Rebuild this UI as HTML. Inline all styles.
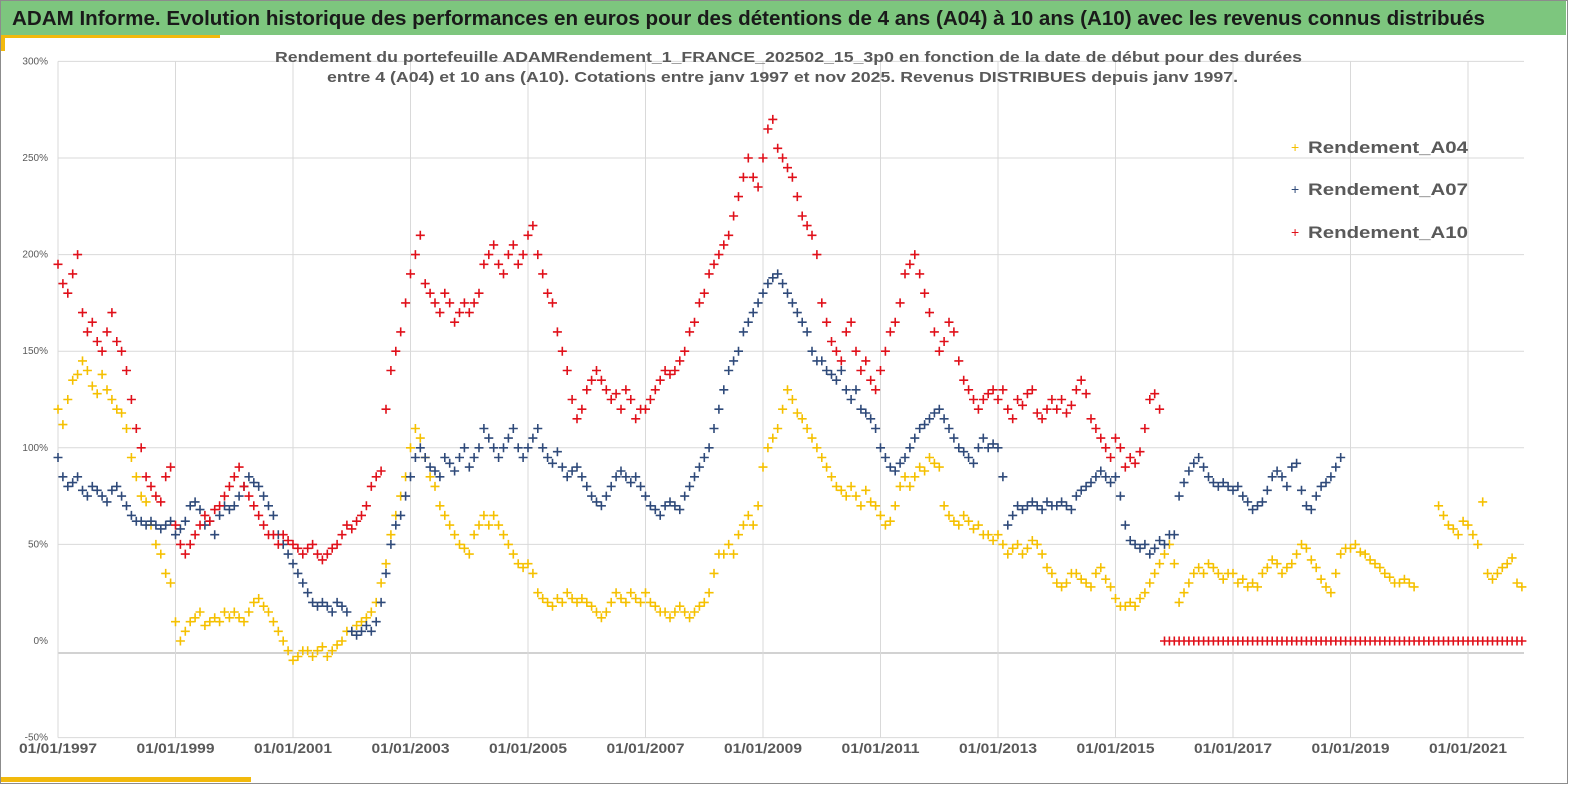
<!DOCTYPE html>
<html><head><meta charset="utf-8">
<style>
html,body{margin:0;padding:0;background:#fff;}
body{width:1569px;height:785px;overflow:hidden;font-family:"Liberation Sans",sans-serif;}
svg text{font-family:"Liberation Sans",sans-serif;}
</style></head>
<body>
<svg id="chart" width="1569" height="785" viewBox="0 0 1569 785">
  <rect x="0.5" y="0.5" width="1567" height="783" fill="#fff" stroke="#8c8c8c"/>
  <rect x="1" y="1" width="1565" height="34" fill="#7dc67e"/>
  <text x="12" y="25" font-size="20" font-weight="bold" fill="#1a1a1a" textLength="1473" lengthAdjust="spacingAndGlyphs">ADAM Informe. Evolution historique des performances en euros pour des détentions de 4 ans (A04) à 10 ans (A10) avec les revenus connus distribués</text>
  <rect x="1" y="35" width="219" height="3" fill="#f2b90c"/>
  <rect x="1" y="35" width="4" height="16" fill="#f2b90c"/>
  <rect x="1" y="777" width="250" height="5" fill="#f2b90c"/>
  <g id="grid"></g>
  <g id="yaxis"></g>
  <g id="xaxis"></g>
  <text x="275" y="62" font-size="15" font-weight="bold" fill="#595959" textLength="1027" lengthAdjust="spacingAndGlyphs">Rendement du portefeuille ADAMRendement_1_FRANCE_202502_15_3p0  en fonction de la date de début pour des durées</text>
  <text x="327" y="82" font-size="15" font-weight="bold" fill="#595959" textLength="911" lengthAdjust="spacingAndGlyphs">entre 4 (A04) et 10 ans (A10). Cotations entre janv 1997 et nov 2025. Revenus DISTRIBUES depuis janv 1997.</text>
  <g id="series"></g>
  <g>
    <g><text x="1291" y="152" font-size="14" fill="#f5c000">+</text><text x="1308" y="153" font-size="17" font-weight="bold" fill="#595959" textLength="160" lengthAdjust="spacingAndGlyphs">Rendement_A04</text></g>
    <g><text x="1291" y="194" font-size="14" fill="#2f4a7a">+</text><text x="1308" y="195" font-size="17" font-weight="bold" fill="#595959" textLength="160" lengthAdjust="spacingAndGlyphs">Rendement_A07</text></g>
    <g><text x="1291" y="237" font-size="14" fill="#e0101a">+</text><text x="1308" y="238" font-size="17" font-weight="bold" fill="#595959" textLength="160" lengthAdjust="spacingAndGlyphs">Rendement_A10</text></g>
  </g>
</svg>
<script>
// monthly series starting January 1997
const startYear = 1997;
const yTicks = [300, 250, 200, 150, 100, 50, 0, -50];
const xTickYears = [1997, 1999, 2001, 2003, 2005, 2007, 2009, 2011, 2013, 2015, 2017, 2019, 2021];
const a04 = [
120,112,125,135,138,145,140,132,128,138,130,125,
120,118,110,95,85,75,72,60,50,45,35,30,
10,0,5,10,12,15,8,10,12,10,15,12,
15,12,10,15,20,22,18,15,10,5,0,-5,
-10,-8,-5,-5,-8,-5,-3,-8,-5,-2,0,5,
5,8,10,12,15,20,30,40,55,65,75,85,
100,110,105,95,85,80,70,65,60,55,50,48,
45,55,60,65,60,65,60,55,50,45,40,38,
40,35,25,22,20,18,22,20,25,22,20,22,
20,18,15,12,15,20,25,22,20,25,22,20,
25,20,18,15,15,12,15,18,15,12,15,18,
20,25,35,45,45,50,45,55,60,65,60,70,
90,100,105,110,120,130,125,118,115,110,105,100,
95,90,85,80,78,75,80,75,70,78,72,70,
65,60,62,70,80,85,80,85,90,88,95,92,
90,70,65,62,60,65,62,58,60,55,55,52,
55,50,45,48,50,45,48,52,50,45,38,35,
30,28,30,35,35,32,30,28,35,38,32,28,
22,18,18,20,18,22,25,30,35,40,45,50,
40,20,25,30,35,38,35,40,38,35,32,35,
35,30,32,28,30,28,35,38,42,40,35,38,
40,45,50,48,42,38,32,28,25,35,45,48,
48,50,46,45,42,40,38,35,33,30,30,32,
30,28,null,null,null,null,70,65,60,58,55,62,
60,55,50,72,35,32,35,38,40,43,30,28];
const a07 = [
95,85,80,82,85,78,75,80,78,75,72,78,
80,75,70,65,62,62,60,62,60,58,60,62,
55,58,62,70,72,68,60,62,55,65,70,68,
70,75,80,85,82,80,75,70,65,55,50,45,
40,35,30,25,20,18,20,18,15,20,18,15,
5,3,5,8,5,10,20,35,50,60,65,75,
85,95,100,95,90,88,85,95,92,88,95,100,
90,95,100,110,105,100,95,100,105,110,100,95,
100,105,110,100,95,92,98,90,85,88,90,85,
80,75,72,70,75,80,85,88,85,82,85,80,
75,70,68,65,70,72,70,68,75,80,85,90,
95,100,110,120,130,140,145,150,160,165,170,175,
180,185,188,190,185,180,175,170,165,160,150,145,
145,140,138,135,140,130,125,130,120,118,115,110,
100,95,90,88,92,95,100,105,110,112,115,118,
120,115,110,105,100,98,95,92,100,105,100,102,
100,85,60,65,70,68,70,72,70,68,72,70,
70,72,70,68,75,78,80,82,85,88,85,82,
85,75,60,52,50,48,50,45,48,52,50,55,
55,75,82,88,92,95,90,85,82,80,82,80,
78,80,75,72,68,70,72,78,85,88,85,80,
90,92,78,70,68,75,80,82,85,90,95];
const a10 = [
195,185,180,190,200,170,160,165,155,150,160,170,
155,150,140,125,110,100,85,80,75,72,85,90,
60,50,45,50,55,60,65,62,68,70,75,80,
85,90,80,75,70,65,60,55,55,50,55,52,
50,48,45,48,50,45,42,45,48,50,55,60,
58,62,65,70,80,85,88,120,140,150,160,175,
190,200,210,185,180,175,170,180,175,165,170,175,
170,175,180,195,200,205,195,190,200,205,195,200,
210,215,200,190,180,175,160,150,140,125,115,120,
130,135,140,135,130,125,128,120,130,125,115,120,
120,125,130,135,140,138,140,145,150,160,165,175,
180,190,195,200,205,210,220,230,240,250,240,235,
250,265,270,255,250,245,240,230,220,215,210,200,
175,165,155,150,145,160,165,150,140,145,135,130,
140,150,160,165,175,190,195,200,190,180,170,160,
150,155,165,160,145,135,130,125,120,125,128,130,
125,130,120,115,125,122,128,130,118,115,120,125,
120,125,118,122,130,135,128,115,110,105,100,95,
105,100,90,95,92,98,110,125,128,120,0,0,
0,0,0,0,0,0,0,0,0,0,0,0,
0,0,0,0,0,0,0,0,0,0,0,0,
0,0,0,0,0,0,0,0,0,0,0,0,
0,0,0,0,0,0,0,0,0,0,0,0,
0,0,0,0,0,0,0,0,0,0,0,0,
0,0,0,0,0,0,0,0,0,0,0,0];

const NS = 'http://www.w3.org/2000/svg';
const X0 = 58, PXY = 58.75, Y0 = 641, PXP = 96.6 / 50;
function xScale(year){ return X0 + (year - 1997) * PXY; }
function yScale(v){ return Y0 - v * PXP; }
function mk(tag, attrs, parent){ const e = document.createElementNS(NS, tag); for (const k in attrs) e.setAttribute(k, attrs[k]); parent.appendChild(e); return e; }

const grid = document.getElementById('grid');
const yaxis = document.getElementById('yaxis');
const xaxis = document.getElementById('xaxis');
const PLOT_R = 1524;
yTicks.forEach(v => {
  const y = yScale(v);
  if (v !== 0) {
    const l = mk('line', {x1: X0, x2: PLOT_R, y1: y, y2: y, stroke: '#d9d9d9', 'stroke-width': 1}, grid);
    
    
  }
  const t = mk('text', {x: 48, y: y + 3, 'text-anchor': 'end', 'font-size': 10, fill: '#595959'}, yaxis);
  t.textContent = v + '%';
  
  
});
const axisLine = mk('line', {x1: X0, x2: PLOT_R, y1: 653, y2: 653, stroke: '#a6a6a6', 'stroke-width': 1}, grid);


xTickYears.forEach(yr => {
  const x = xScale(yr);
  const l = mk('line', {x1: x, x2: x, y1: yScale(300), y2: yScale(-50), stroke: '#d9d9d9', 'stroke-width': 1}, grid);
  
  
  const t = mk('text', {x: x - 39, y: 753, 'font-size': 14, 'font-weight': 'bold', fill: '#595959', textLength: 78, lengthAdjust: 'spacingAndGlyphs'}, xaxis);
  t.textContent = '01/01/' + yr;
  
  
});

const seriesLayer = document.getElementById('series');
function drawSeries(values, color, name){
  const g = mk('g', {stroke: color, 'stroke-width': 1.6, fill: 'none'}, seriesLayer);
  
  
  let d = '';
  values.forEach((v, i) => {
    if (v === null) return;
    const x = xScale(startYear + i / 12), y = yScale(v);
    d += 'M' + (x - 4.5).toFixed(1) + ' ' + y.toFixed(1) + 'h9M' + x.toFixed(1) + ' ' + (y - 4.5).toFixed(1) + 'v9';
  });
  const p = mk('path', {d: d}, g);
  
  
}
drawSeries(a04, '#f5c000', 'series-a04');
drawSeries(a07, '#2f4a7a', 'series-a07');
drawSeries(a10, '#e0101a', 'series-a10');
</script>
</body></html>
